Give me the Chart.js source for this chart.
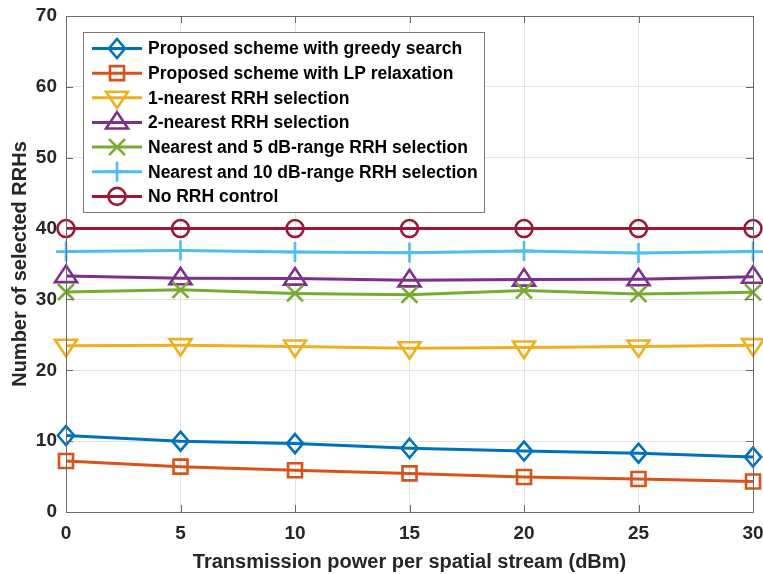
<!DOCTYPE html>
<html>
<head>
<meta charset="utf-8">
<script src="https://cdn.jsdelivr.net/npm/chart.js@4/dist/chart.umd.min.js"></script>
<style>
  html, body { margin: 0; padding: 0; background: #ffffff; }
  #wrap { width: 763px; height: 574px; position: relative; }
</style>
</head>
<body>
<div id="wrap"><canvas id="c" width="763" height="574"></canvas></div>
<script>
// Transmission power per spatial stream (dBm)
const powerDbm = [0, 5, 10, 15, 20, 25, 30];

// Number of selected RRHs for each scheme
const greedySearch = [10.8, 10.0, 9.65, 9.0, 8.6, 8.3, 7.75];
const lpRelaxation = [7.2, 6.4, 5.9, 5.45, 4.95, 4.65, 4.3];
const nearest1 = [23.45, 23.55, 23.35, 23.1, 23.2, 23.35, 23.55];
const nearest2 = [33.3, 33.0, 32.95, 32.7, 32.8, 32.85, 33.2];
const range5dB = [31.05, 31.35, 30.85, 30.65, 31.25, 30.75, 31.0];
const range10dB = [36.75, 36.9, 36.7, 36.6, 36.85, 36.55, 36.75];
const noControl = [40, 40, 40, 40, 40, 40, 40];

const seriesLabels = [
  'Proposed scheme with greedy search',
  'Proposed scheme with LP relaxation',
  '1-nearest RRH selection',
  '2-nearest RRH selection',
  'Nearest and 5 dB-range RRH selection',
  'Nearest and 10 dB-range RRH selection',
  'No RRH control'
];

const yTicks = [0, 10, 20, 30, 40, 50, 60, 70];
const xTicks = [0, 5, 10, 15, 20, 25, 30];

const FONT = '"Liberation Sans", Arial, sans-serif';
const TEXT = '#262626';

const styles = [
  { color: '#0072BD', marker: 'diamond', r: 9.5 },
  { color: '#D95319', marker: 'square',  r: 7 },
  { color: '#EDB120', marker: 'tridown', r: 11 },
  { color: '#7E2F8E', marker: 'triup',   r: 11 },
  { color: '#77AC30', marker: 'x',       r: 8 },
  { color: '#4DBEEE', marker: 'plus',    r: 10 },
  { color: '#A2142F', marker: 'circle',  r: 8.5 }
];
const seriesValues = [greedySearch, lpRelaxation, nearest1, nearest2, range5dB, range10dB, noControl];

// draws an open marker centred on (x, y)
function drawMarker(ctx, kind, x, y, r, color) {
  ctx.save();
  ctx.strokeStyle = color;
  ctx.lineWidth = 2.6;
  ctx.lineJoin = 'miter';
  ctx.beginPath();
  if (kind === 'diamond') {
    ctx.moveTo(x, y - r); ctx.lineTo(x + r * 0.85, y); ctx.lineTo(x, y + r); ctx.lineTo(x - r * 0.85, y); ctx.closePath();
  } else if (kind === 'square') {
    ctx.rect(x - r, y - r, 2 * r, 2 * r);
  } else if (kind === 'tridown') {
    ctx.moveTo(x - r, y - r * 0.55); ctx.lineTo(x + r, y - r * 0.55); ctx.lineTo(x, y + r * 0.95); ctx.closePath();
  } else if (kind === 'triup') {
    ctx.moveTo(x - r, y + r * 0.55); ctx.lineTo(x + r, y + r * 0.55); ctx.lineTo(x, y - r * 0.95); ctx.closePath();
  } else if (kind === 'x') {
    ctx.moveTo(x - r, y - r); ctx.lineTo(x + r, y + r);
    ctx.moveTo(x + r, y - r); ctx.lineTo(x - r, y + r);
  } else if (kind === 'plus') {
    ctx.moveTo(x - r, y); ctx.lineTo(x + r, y);
    ctx.moveTo(x, y - r); ctx.lineTo(x, y + r);
  } else if (kind === 'circle') {
    ctx.arc(x, y, r, 0, Math.PI * 2);
  }
  ctx.stroke();
  ctx.restore();
}

// markers on every data point, plus the box frame with inward ticks and the legend
const decorPlugin = {
  id: 'decor',
  afterDatasetsDraw(chart) {
    const ctx = chart.ctx;
    chart.data.datasets.forEach((ds, i) => {
      const meta = chart.getDatasetMeta(i);
      const st = styles[i];
      meta.data.forEach(pt => drawMarker(ctx, st.marker, pt.x, pt.y, st.r, st.color));
    });
  },
  afterDraw(chart) {
    const ctx = chart.ctx;
    const a = chart.chartArea;
    const xs = chart.scales.x, ys = chart.scales.y;
    ctx.save();
    ctx.strokeStyle = '#6a6a6a';
    ctx.lineWidth = 1;
    ctx.beginPath();
    ctx.rect(Math.round(a.left) + 0.5, Math.round(a.top) + 0.5, Math.round(a.right - a.left), Math.round(a.bottom - a.top));
    ctx.stroke();
    const tl = 7;
    ctx.beginPath();
    xTicks.forEach(v => {
      const px = Math.round(xs.getPixelForValue(v)) + 0.5;
      ctx.moveTo(px, a.bottom); ctx.lineTo(px, a.bottom - tl);
      ctx.moveTo(px, a.top); ctx.lineTo(px, a.top + tl);
    });
    yTicks.forEach(v => {
      const py = Math.round(ys.getPixelForValue(v)) + 0.5;
      ctx.moveTo(a.left, py); ctx.lineTo(a.left + tl, py);
      ctx.moveTo(a.right, py); ctx.lineTo(a.right - tl, py);
    });
    ctx.stroke();

    // legend box
    const bx = 83, by = 32, bw = 401, bh = 180;
    ctx.fillStyle = '#ffffff';
    ctx.fillRect(bx, by, bw, bh);
    ctx.strokeStyle = '#7a7a7a';
    ctx.strokeRect(bx + 0.5, by + 0.5, bw, bh);
    ctx.font = 'bold 17.5px ' + FONT;
    ctx.textBaseline = 'middle';
    ctx.textAlign = 'left';
    seriesLabels.forEach((label, i) => {
      const y = 48.5 + i * 24.65;
      const st = styles[i];
      ctx.strokeStyle = st.color;
      ctx.lineWidth = 3;
      ctx.beginPath(); ctx.moveTo(92, y); ctx.lineTo(142, y); ctx.stroke();
      drawMarker(ctx, st.marker, 117, y, st.r, st.color);
      ctx.fillStyle = '#000000';
      ctx.fillText(label, 148, y + 1);
    });
    ctx.restore();
  }
};

const datasets = seriesValues.map((vals, i) => ({
  label: seriesLabels[i],
  data: powerDbm.map((p, k) => ({ x: p, y: vals[k] })),
  borderColor: styles[i].color,
  backgroundColor: styles[i].color,
  borderWidth: 3,
  pointRadius: 0,
  pointHoverRadius: 0,
  tension: 0,
  clip: false
}));

new Chart(document.getElementById('c'), {
  type: 'line',
  data: { datasets },
  options: {
    responsive: false,
    animation: false,
    events: [],
    layout: { padding: { top: 16, right: 10, left: 0, bottom: 0 } },
    plugins: { legend: { display: false }, tooltip: { enabled: false } },
    scales: {
      x: {
        type: 'linear',
        min: 0, max: 30,
        afterFit: s => { s.height = 62; s.paddingLeft = 0; s.paddingRight = 0; },
        afterBuildTicks: s => { s.ticks = xTicks.map(v => ({ value: v })); },
        grid: { color: '#e3e3e3', drawTicks: false },
        border: { display: false },
        ticks: { padding: 10, color: TEXT, font: { family: FONT, size: 19, weight: 'bold' } },
        title: {
          display: true,
          text: 'Transmission power per spatial stream (dBm)',
          color: TEXT,
          padding: { top: 0, bottom: 0 },
          font: { family: FONT, size: 20, weight: 'bold' }
        }
      },
      y: {
        min: 0, max: 70,
        afterFit: s => { s.width = 66; s.paddingTop = 0; s.paddingBottom = 0; },
        afterBuildTicks: s => { s.ticks = yTicks.map(v => ({ value: v })); },
        grid: { color: '#e3e3e3', drawTicks: false },
        border: { display: false },
        ticks: { padding: 9, color: TEXT, font: { family: FONT, size: 19, weight: 'bold' } },
        title: {
          display: true,
          text: 'Number of selected RRHs',
          color: TEXT,
          padding: { top: 8, bottom: 0 },
          font: { family: FONT, size: 20, weight: 'bold' }
        }
      }
    }
  },
  plugins: [decorPlugin]
});
</script>
</body>
</html>
